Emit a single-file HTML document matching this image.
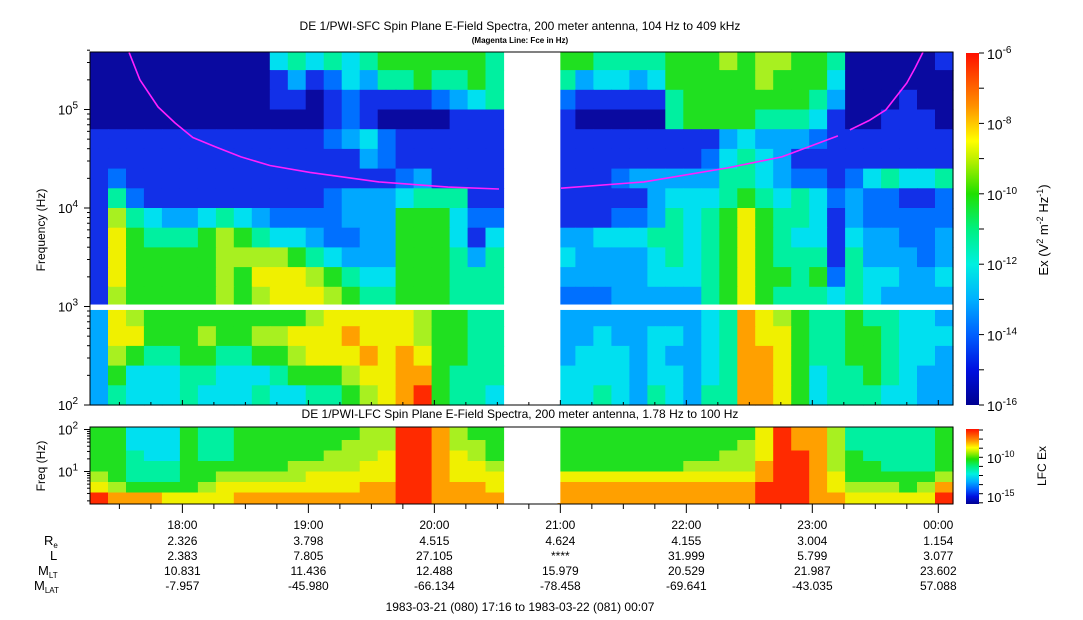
<!DOCTYPE html>
<html><head><meta charset="utf-8"><style>
html,body{margin:0;padding:0;background:#fff;}
svg{display:block;font-family:"Liberation Sans",sans-serif;}
</style></head><body>
<svg id="chart" width="1083" height="620" viewBox="0 0 1083 620">
<defs>
<linearGradient id="cbar" x1="0" y1="1" x2="0" y2="0">
<stop offset="0" stop-color="#000090"/><stop offset="0.1" stop-color="#0010e0"/><stop offset="0.2" stop-color="#0060ff"/>
<stop offset="0.3" stop-color="#00b0ff"/><stop offset="0.4" stop-color="#00f0e0"/><stop offset="0.5" stop-color="#00f080"/>
<stop offset="0.6" stop-color="#20e000"/><stop offset="0.7" stop-color="#c0f000"/><stop offset="0.75" stop-color="#ffff00"/>
<stop offset="0.85" stop-color="#ff9000"/><stop offset="1" stop-color="#ff1000"/>
</linearGradient>
</defs>
<text x="520" y="30" font-size="12" text-anchor="middle">DE 1/PWI-SFC  Spin Plane E-Field Spectra, 200 meter antenna, 104 Hz to 409 kHz</text>
<text x="520" y="43" font-size="8" font-weight="bold" text-anchor="middle">(Magenta Line: Fce in Hz)</text>
<text x="520" y="418" font-size="12" text-anchor="middle">DE 1/PWI-LFC  Spin Plane E-Field Spectra, 200 meter antenna, 1.78 Hz to 100 Hz</text>
<g id="upper"></g>
<g id="lower"></g>
<g id="axes"></g>
<rect x="966" y="53" width="13" height="352" fill="url(#cbar)"/>
<rect x="966" y="429" width="13" height="75" fill="url(#cbar)"/>
<text transform="translate(1048,230) rotate(-90)" font-size="13" text-anchor="middle">Ex (V<tspan dy="-5" font-size="9">2</tspan><tspan dy="5"> m</tspan><tspan dy="-5" font-size="9">-2</tspan><tspan dy="5"> Hz</tspan><tspan dy="-5" font-size="9">-1</tspan><tspan dy="5">)</tspan></text>
<text transform="translate(1046,466) rotate(-90)" font-size="12" text-anchor="middle">LFC Ex</text>
<text transform="translate(45,230) rotate(-90)" font-size="12" text-anchor="middle">Frequency (Hz)</text>
<text transform="translate(45,466) rotate(-90)" font-size="12" text-anchor="middle">Freq (Hz)</text>
<text x="520" y="611" font-size="12" text-anchor="middle">1983-03-21 (080) 17:16 to 1983-03-22 (081) 00:07</text>
</svg>
<script>
const NS='http://www.w3.org/2000/svg';
const tStart=17+16/60, tEnd=24+7/60;
const colCount=48;
const gapStart=20+35/60, gapEnd=21.0;
const upperRowEdges=[5.612,5.4,5.2,5.0,4.8,4.6,4.4,4.2,4.0,3.8,3.6,3.4,3.2,3.0,2.8,2.6,2.4,2.2,2.0];
// left part (23 columns before gap) and right part (22 columns after gap)
const upperLeft=[
"00000000004545456666665","00000000001312435565565","00000000001101211112345","00000000000001210000111",
"11111111111112342111111","11111111111111132111111","12111111111111111231111","15211111111112333455511",
"17543345432222333666422","18655567654432233666414","18666667777654333666535","18666667688876544666555",
"17666667678887655666555","38766666666678888876655","38866676677888988876655","37655665566788898986655",
"36444554445666788996555","354445444544556789A6554"];
const upperRight=[
"6655556667677665000001","5344346666676664000000","2111115666666653000100","1000005666655541001110",
"1111111113433321111111","1111111124543111111111","1112333335543221245445","1111134445654542322112",
"1112235456865541322222","3344455456865441433223","4333345456865551533323","3333344456866562544334",
"2223333356865554543333","3333333345987655655443","3343344345988655665444","3444343345998655665443",
"4444344345998645565433","4454354355998645554433"];
const lowerRowEdges=[2.1,1.75,1.5,1.25,1.0,0.75,0.5,0.25];
const lowerLeft=["66444655666666677AA9766","66444655666666777AA9776","66544655666667778AA9876","66555666666777788AA9887",
"76555667777788888AA9888","87666678888888899AA9998","A9998888999999999AA9999"];
const lowerRight=["666666666668A997555556","666666666678A997555556","666666666778AA97655556","666666677779AA97665556",
"888888888889AA98666667","99999999999AAA98777679","99999999999AAA9988888A"];
const fceHoursA=[17.577,17.663,17.807,17.942,18.083,18.258,18.465,18.695,19.013,19.56,20.108,20.513];
const fceHzA=[380000,200000,106000,73000,52000,42000,33000,27000,23000,18400,16300,15600];
const fceHoursB=[21.005,21.663,22.322,22.758,23.203];
const fceHzB=[15900,18400,25500,33000,54000];
const fceHoursC=[23.298,23.457,23.583,23.75,23.815,23.878];
const fceHzC=[62000,78000,99000,186000,263000,380000];
const hourTicks=[18,19,20,21,22,23,24];
const hourLabels=["18:00","19:00","20:00","21:00","22:00","23:00","00:00"];
const reVals=["2.326","3.798","4.515","4.624","4.155","3.004","1.154"];
const lVals=["2.383","7.805","27.105","****","31.999","5.799","3.077"];
const mltVals=["10.831","11.436","12.488","15.979","20.529","21.987","23.602"];
const mlatVals=["-7.957","-45.980","-66.134","-78.458","-69.641","-43.035","57.088"];
const palette={"0":"#0a0aa0","1":"#1230e8","2":"#0070ff","3":"#00a8ff","4":"#00e0f0","5":"#00f0a0","6":"#20e020","7":"#a8f020","8":"#f0f000","9":"#ffa000","A":"#ff2a00"};
const X0=90,X1=953;
function xT(h){return X0+(h-tStart)/(tEnd-tStart)*(X1-X0);}
function yU(lf){return 405-(lf-2)*98.5;}
function yL(lf){return 429.5+(2-lf)*42;}
function mk(tag,attrs,parent){const e=document.createElementNS(NS,tag);for(const k in attrs)e.setAttribute(k,attrs[k]);parent.appendChild(e);return e;}
const up=document.getElementById('upper'), lo=document.getElementById('lower'), ax=document.getElementById('axes');
const dt=(tEnd-tStart)/colCount;
function drawGrid(L,R,edges,yf,parent,name,top){
  L.forEach((left,r)=>{
    const row=left+'   '+R[r];
    for(let c=0;c<colCount;c++){
      let ch=row[c]; if(ch===undefined||ch===' ')continue;
      const xa=xT(tStart+c*dt), xb=xT(tStart+(c+1)*dt);
      let ya=Math.max(top,yf(edges[r])), yb=yf(edges[r+1]);
      const e=mk('rect',{x:xa.toFixed(1),y:ya.toFixed(1),width:(xb-xa+0.6).toFixed(1),height:(yb-ya+0.6).toFixed(1),fill:palette[ch]},parent);
      
      
    }
  });
  const g=mk('rect',{x:xT(gapStart),y:top,width:xT(gapEnd)-xT(gapStart),height:yf(edges[edges.length-1])-top,fill:'#fff'},parent);
  
  
}
drawGrid(upperLeft,upperRight,upperRowEdges,yU,up,'sfc-cell',52);
drawGrid(lowerLeft,lowerRight,lowerRowEdges,yL,lo,'lfc-cell',427);
const stripe=mk('rect',{x:X0,y:yU(3.02),width:X1-X0,height:yU(2.965)-yU(3.02),fill:'#fff'},up);


function fceLine(hs,fs){
  const pts=hs.map((h,i)=>xT(h).toFixed(1)+','+Math.max(52,yU(Math.log10(fs[i]))).toFixed(1)).join(' ');
  const p=mk('polyline',{points:pts,fill:'none',stroke:'#ff20ff','stroke-width':1.6,'stroke-linejoin':'round'},up);
  
  
}
fceLine(fceHoursA,fceHzA);fceLine(fceHoursB,fceHzB);fceLine(fceHoursC,fceHzC);
const f1=mk('rect',{x:X0,y:52,width:X1-X0,height:353,fill:'none',stroke:'#000','stroke-width':1},ax);


const f2=mk('rect',{x:X0,y:427,width:X1-X0,height:77,fill:'none',stroke:'#000','stroke-width':1},ax);


function line(x1,y1,x2,y2){mk('line',{x1,y1,x2,y2,stroke:'#000','stroke-width':1},ax);}
for(let d=2;d<=5;d++){
  for(let m=1;m<10;m++){
    const lf=d+Math.log10(m); if(lf>5.612)break;
    const y=yU(lf), Ln=m===1?6:3;
    line(X0-Ln,y,X0,y);
  }
  const t=mk('text',{x:78,y:yU(d)+5,'font-size':13,'text-anchor':'end'},ax);
  t.innerHTML='10<tspan dy="-6" font-size="10">'+d+'</tspan>';
  
  
}
for(let d=0;d<=2;d++){
  for(let m=1;m<10;m++){
    const lf=d+Math.log10(m); if(lf<0.25||lf>2.05)continue;
    const y=yL(lf), Ln=m===1?6:3;
    line(X0-Ln,y,X0,y);
  }
  if(d>=1){
  const t=mk('text',{x:78,y:yL(d)+5,'font-size':13,'text-anchor':'end'},ax);
  t.innerHTML='10<tspan dy="-6" font-size="10">'+d+'</tspan>';
  
  }
}
for(let h=17.25;h<=24.12;h+=0.25){
  const x=xT(h); if(x<X0||x>X1)continue;
  const major=Math.abs(h-Math.round(h))<0.01;
  line(x,504,x,504+(major?9:5));
  line(x,405,x,405-(major?5:3));
}
for(let e=-16;e<=-6;e++){
  const y=405-(e+16)*35.2;
  line(979,y,984,y);
  if(e%2===0){
    const t=mk('text',{x:987,y:y+6,'font-size':14},ax);
    t.innerHTML='10<tspan dy="-6" font-size="10">'+e+'</tspan>';
    
    
  }
}
for(let i=0;i<9;i++){const y=430+i*9.1;line(979,y,983,y);}
[[-10,458],[-15,497]].forEach(([e,y])=>{
  const t=mk('text',{x:987,y:y+5,'font-size':13},ax);
  t.innerHTML='10<tspan dy="-6" font-size="9">'+e+'</tspan>';
  
  
});
const rowsY=[529,545,560,575,590];
const tables=[hourLabels,reVals,lVals,mltVals,mlatVals];
tables.forEach((arr,ri)=>{
  arr.forEach((v,i)=>{
    const t=mk('text',{x:xT(hourTicks[i]),y:rowsY[ri],'font-size':12,'text-anchor':'middle'},ax);
    t.textContent=v;
    
    
  });
});
const rl=[['R','e',44],['L','',50],['M','LT',38],['M','LAT',34]];
rl.forEach(([a,b,x],i)=>{
  const t=mk('text',{x:x,y:rowsY[i+1],'font-size':13},ax);
  t.innerHTML=a+(b?'<tspan dy="3" font-size="8">'+b+'</tspan>':'');
  
  
});
</script>
</body></html>
